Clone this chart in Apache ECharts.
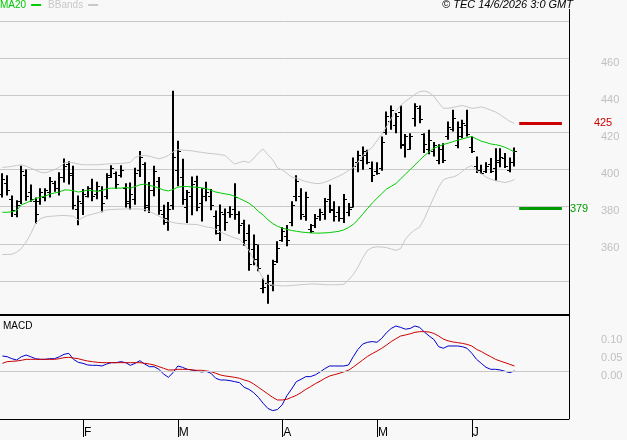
<!DOCTYPE html>
<html lang="en">
<head>
<meta charset="UTF-8">
<title>TEC</title>
<style>
    html, body { margin: 0; padding: 0; background: #f8f8f8; }
    #main { width: 627px; height: 440px; }
</style>
</head>
<body>
<div id="main"></div>
<script src="https://cdn.jsdelivr.net/npm/echarts@6/dist/echarts.min.js"></script>
<script>
    // trading days shown, plus empty future slots on the right
    var dates = [
        '2026-01-08','2026-01-09','2026-01-12','2026-01-13','2026-01-14','2026-01-15','2026-01-16','2026-01-19','2026-01-20','2026-01-21',
        '2026-01-22','2026-01-23','2026-01-26','2026-01-27','2026-01-28','2026-01-29','2026-01-30','2026-02-02','2026-02-03','2026-02-04',
        '2026-02-05','2026-02-06','2026-02-09','2026-02-10','2026-02-11','2026-02-12','2026-02-13','2026-02-16','2026-02-17','2026-02-18',
        '2026-02-19','2026-02-20','2026-02-23','2026-02-24','2026-02-25','2026-02-26','2026-02-27','2026-03-02','2026-03-03','2026-03-04',
        '2026-03-05','2026-03-06','2026-03-09','2026-03-10','2026-03-11','2026-03-12','2026-03-13','2026-03-16','2026-03-17','2026-03-18',
        '2026-03-19','2026-03-20','2026-03-23','2026-03-24','2026-03-25','2026-03-26','2026-03-27','2026-03-30','2026-03-31','2026-04-01',
        '2026-04-02','2026-04-07','2026-04-08','2026-04-09','2026-04-10','2026-04-13','2026-04-14','2026-04-15','2026-04-16','2026-04-17',
        '2026-04-20','2026-04-21','2026-04-22','2026-04-23','2026-04-24','2026-04-27','2026-04-28','2026-04-29','2026-04-30','2026-05-04',
        '2026-05-05','2026-05-06','2026-05-07','2026-05-08','2026-05-11','2026-05-12','2026-05-13','2026-05-14','2026-05-15','2026-05-18',
        '2026-05-19','2026-05-20','2026-05-21','2026-05-22','2026-05-25','2026-05-26','2026-05-27','2026-05-28','2026-05-29','2026-06-01',
        '2026-06-02','2026-06-03','2026-06-04','2026-06-05','2026-06-08','2026-06-09','2026-06-10','2026-06-11','2026-06-12'
    ];
    var futureDates = ['2026-06-15','2026-06-16','2026-06-17','2026-06-18','2026-06-19','2026-06-22','2026-06-23','2026-06-24','2026-06-25','2026-06-26','2026-06-29'];

    var opens = [
        387, 393, 384, 376, 383, 397, 388, 383, 383, 385,
        388, 393, 390, 396, 403, 398, 379, 382, 386, 390,
        387, 389, 386, 397, 398, 397, 390, 383, 384, 400,
        403, 381, 389, 394, 376, 372, 381, 400, 396, 380,
        386, 394, 382, 390, 386, 375, 366, 376, 377, 379,
        376, 371, 366, 357, 352, 336, 339, 338, 351, 362,
        364, 372, 386, 386, 375, 368, 370, 375, 376, 384,
        378, 377, 374, 377, 380, 404, 405, 408, 401, 399,
        401, 420, 426, 424, 431, 413, 411, 428, 433, 419,
        411, 410, 405, 411, 418, 422, 413, 418, 424, 412,
        402, 400, 399, 403, 401, 404, 406, 400, 404
    ];
    var closes = [
        395, 389, 378, 381, 399, 386, 384, 376, 388, 389,
        394, 390, 396, 402, 397, 381, 383, 387, 390, 386,
        391, 382, 396, 401, 392, 400, 382, 387, 398, 407,
        380, 389, 399, 378, 374, 379, 407, 410, 384, 388,
        392, 380, 386, 388, 381, 370, 377, 372, 376, 385,
        370, 362, 349, 360, 347, 337, 340, 349, 358, 367,
        362, 381, 394, 376, 385, 367, 374, 377, 383, 379,
        375, 374, 384, 379, 402, 408, 410, 404, 397, 398,
        415, 429, 432, 429, 414, 418, 418, 434, 427, 414,
        416, 413, 411, 405, 423, 428, 423, 425, 419, 410,
        400, 398, 402, 399, 405, 407, 402, 404, 410
    ];
    var lows = [
        385, 386, 374.5, 374.3, 381.4, 383.2, 382.7, 371, 381, 383,
        385, 388, 386, 393, 392, 378.5, 370, 375.5, 385, 383,
        384, 377, 384, 395.4, 389.5, 395.7, 379.6, 378.5, 381, 396,
        377.5, 376.6, 385.6, 375.7, 370.3, 367, 378.4, 391, 381.1, 371.2,
        375.4, 377.5, 372.1, 383, 378.1, 365, 361.5, 367, 374, 373,
        365.5, 359, 345.5, 348.5, 345.3, 333.4, 327.8, 334.5, 349.7, 361.2,
        358.7, 369.5, 383, 373, 372.5, 365.8, 368.5, 372.5, 373, 376.6,
        372.1, 372.1, 371.2, 374.8, 379.6, 398.6, 399.9, 402.9, 393.3, 397.2,
        399.4, 418.7, 421.4, 419.6, 411.2, 406.5, 410.7, 423.2, 425, 408.9,
        408.3, 407.1, 402.9, 403.5, 416, 420.5, 411.5, 416.9, 417.8, 408.9,
        398.1, 397.6, 398.1, 398.1, 394, 401.2, 400.8, 398.6, 401.7
    ];
    var highs = [
        398, 397, 386, 383.5, 402, 400, 392, 385, 390, 390,
        396, 394, 398.5, 406, 404.5, 402, 386, 389.5, 391, 395,
        393.5, 391, 398, 402.3, 399, 402.3, 392.7, 393, 401, 410,
        404, 393.3, 402, 396, 381, 382.5, 442.4, 415.5, 405.8, 389,
        396.3, 396.7, 390, 393.5, 389.6, 378, 381.2, 379, 380.3, 392.7,
        377.5, 373, 370.4, 365, 359.6, 341.4, 343.3, 351.5, 361.4, 369,
        370.2, 383, 397, 390, 388, 370.7, 376.1, 378.9, 384.7, 391.8,
        382.9, 380.2, 386.8, 382, 406.5, 410.1, 412.4, 410.7, 404.4, 404,
        417.8, 431.3, 434.5, 430.4, 434.5, 419.1, 419.6, 435.7, 434.5, 419.6,
        421.4, 414.8, 413.7, 414.2, 425.9, 432.2, 425.9, 426.8, 432.2, 417.8,
        407.1, 402.6, 404, 406.2, 411.5, 411.5, 408.9, 406.5, 411.9
    ];
    var ma20 = [
        377, 377, 377.3, 377.9, 381.1, 382, 383.2, 384.3, 385.2, 385.6,
        386.8, 387.4, 387.9, 389, 389, 388.6, 387.9, 388.3, 389, 388.6,
        388.3, 388.6, 389.7, 390, 390, 390, 390.4, 390, 390.8, 391.8,
        392.2, 391.5, 390.9, 390, 389, 388.5, 389.3, 390.5, 390.9, 390.9,
        390.6, 390.5, 390.2, 389.7, 388.9, 387.9, 387.4, 386.9, 386.5, 385.6,
        384.4, 383.2, 381.9, 380, 377.5, 375.5, 373, 371, 369.5, 368.5,
        367.8, 367.2, 366.8, 366.4, 366.1, 365.9, 365.8, 365.8, 365.9, 366.1,
        366.4, 366.8, 367.5, 368.8, 370.5, 373, 376, 379, 382, 384.5,
        387, 389.5, 391, 392.5, 395, 397.5, 400, 402.5, 405, 407.5,
        409.5, 411.5, 412.5, 413.5, 414.2, 415, 415.8, 416.5, 417.2, 417.8,
        416.5, 415.3, 414.6, 413.8, 413.4, 412.9, 412, 410.8, 409.4
    ];
    var bbUpper = [
        401.2, 401.4, 401.7, 402.2, 402.6, 401.8, 400.8, 399.6, 398.6, 398.2,
        399, 400, 401.2, 403.5, 404, 403.6, 403, 402.6, 402.6, 402.6,
        402.6, 402.8, 403, 403.1, 403.2, 403.3, 403.5, 404, 406.5, 407.4,
        407.6, 407.2, 406.5, 405.8, 406.5, 407.6, 409.5, 410.7, 410.5, 410.3,
        410.1, 409.6, 409.3, 408.9, 408.6, 408.4, 408, 407.6, 405, 403,
        403.8, 404.5, 403.8, 406, 409, 411, 408, 405.3, 401, 399.9,
        398, 396, 395.4, 394.4, 393.6, 393, 392.5, 392.5, 393.2, 394.2,
        395.4, 396.5, 397.8, 399.5, 401, 404, 407.5, 410, 412, 415.5,
        419, 423, 427.5, 431.5, 434.5, 436.8, 438.5, 440.5, 442, 442.3,
        441.5, 439.5, 436, 433, 433, 433.5, 434, 434.5, 433.8, 433,
        433.2, 433.8, 433, 432, 431, 429.5, 427.7, 426, 424.8
    ];
    var bbLower = [
        354.3, 354.3, 354.4, 355.5, 357.5, 361, 365.5, 371, 373.5, 374.5,
        374.8, 375, 375.2, 375.3, 375.1, 374.9, 372.8, 374.2, 375.3, 376,
        376.6, 377.5, 378.3, 378.5, 378.6, 378.7, 378.8, 378.8, 378.8, 378.8,
        378.5, 377.5, 376.3, 375, 373.5, 372.2, 371.5, 371, 370.8, 370.6,
        370.5, 370.4, 369.8, 369.1, 368.8, 368, 366.3, 365.3, 364.2, 363.2,
        362.5, 359.8, 356.5, 351.5, 346, 341, 338.3, 337.8, 337.6, 337.4,
        337.4, 337.6, 337.8, 338, 338.2, 338.4, 338.4, 338.2, 338, 338,
        338, 338, 338.2, 340.5, 343.5, 347.5, 352.5, 356.5, 358, 358.4,
        358.3, 358, 357.2, 356.5, 357.5, 362.5, 365.5, 367.5, 369, 373.5,
        379.5, 385, 390.5, 394.5, 395.5, 396, 397, 399, 401, 402.2,
        399.5, 397.8, 396, 394.8, 394, 393.5, 393, 393.6, 394.6
    ];
    var macdLine = [
        0.0432, 0.0413, 0.0356, 0.032, 0.041, 0.046, 0.041, 0.0356, 0.0338, 0.0338,
        0.0356, 0.0356, 0.041, 0.048, 0.0507, 0.0338, 0.0254, 0.0225, 0.0178, 0.0169,
        0.0169, 0.015, 0.0207, 0.0244, 0.0244, 0.0272, 0.0244, 0.0169, 0.0225, 0.03,
        0.0207, 0.0131, 0.0131, 0.0056, -0.0076, -0.017, -0.0038, 0.015, 0.0112, 0.0056,
        0.0038, 0.0009, -0.0019, 0, -0.0056, -0.0198, -0.0245, -0.0245, -0.0264, -0.0292,
        -0.032, -0.0452, -0.0509, -0.0603, -0.0735, -0.0904, -0.105, -0.111, -0.108, -0.095,
        -0.069, -0.05, -0.0292, -0.0226, -0.015, -0.015, -0.01, -0.0019, 0.0075, 0.015,
        0.015, 0.015, 0.015, 0.0178, 0.0413, 0.062, 0.077, 0.082, 0.084, 0.082,
        0.093, 0.109, 0.121, 0.128, 0.124, 0.119, 0.121, 0.128, 0.124, 0.111,
        0.0997, 0.09, 0.0696, 0.065, 0.0715, 0.0715, 0.0715, 0.0696, 0.065, 0.051,
        0.0338, 0.0225, 0.0112, 0.0056, 0.0056, 0.0038, 0, -0.0038, 0.0009
    ];
    var macdSignal = [
        0.0225, 0.0272, 0.0282, 0.029, 0.031, 0.0338, 0.0338, 0.0338, 0.0338, 0.0338,
        0.0338, 0.0338, 0.0356, 0.0385, 0.0394, 0.0375, 0.0356, 0.032, 0.029, 0.0272,
        0.0254, 0.0244, 0.0244, 0.0244, 0.0244, 0.0244, 0.0244, 0.0244, 0.0244, 0.0244,
        0.0225, 0.0207, 0.0178, 0.0131, 0.0085, 0.0038, 0.0038, 0.0056, 0.0056, 0.0056,
        0.0038, 0.0028, 0.0028, 0.0009, -0.0009, -0.0056, -0.0104, -0.0132, -0.015, -0.017,
        -0.0198, -0.0245, -0.0282, -0.0358, -0.0452, -0.0546, -0.064, -0.0735, -0.081, -0.081,
        -0.079, -0.0735, -0.068, -0.0603, -0.0509, -0.0433, -0.035, -0.028, -0.02, -0.0135,
        -0.0095, -0.006, -0.0015, 0.003, 0.012, 0.022, 0.032, 0.042, 0.05, 0.057,
        0.065, 0.074, 0.084, 0.092, 0.0997, 0.1025, 0.106, 0.11, 0.112, 0.112,
        0.111, 0.107, 0.0997, 0.091, 0.086, 0.083, 0.081, 0.079, 0.076, 0.0715,
        0.062, 0.056, 0.048, 0.0413, 0.0338, 0.029, 0.0244, 0.0197, 0.015
    ];
    var priceTicks = [360, 380, 400, 420, 440, 460];
    var macdTicks = [0, 0.05, 0.10];
    var levels = [425, 379];

    var levelColors = ['#cc0000', '#009900'];
    var levelLabelGap = [32, 8];
    var levelStart = 109, levelEnd = 118;   // category slots of the level marks

    var categories = dates.concat(futureDates);
    var bars = dates.map(function (d, i) {
        return [i, opens[i], closes[i], lows[i], highs[i]];
    });
    var monthLetters = 'JFMAMJJASOND';

    function isMonthStart(i) {
        return i > 0 && categories[i].slice(5, 7) !== categories[i - 1].slice(5, 7);
    }
    function onList(list, v) {
        return list.some(function (t) { return Math.abs(t - v) < 1e-6; });
    }

    var myChart = echarts.init(document.getElementById('main'));

    var option = {
        backgroundColor: '#f8f8f8',
        animation: false,
        textStyle: { fontFamily: 'Liberation Sans' },
        title: [
            {
                text: '© TEC 14/6/2026 3:0 GMT',
                right: 54, top: -1, padding: 0,
                textStyle: { fontSize: 11, fontStyle: 'italic', fontWeight: 'normal', color: '#000' }
            },
            {
                text: 'MACD',
                left: 3, top: 321, padding: 0,
                textStyle: { fontSize: 10, fontWeight: 'normal', color: '#000' }
            }
        ],
        legend: {
            left: 0, top: 0, padding: 0,
            itemGap: 7, itemWidth: 10, itemHeight: 2,
            icon: 'rect', align: 'right', selectedMode: false,
            textStyle: { fontSize: 10 },
            data: [
                { name: 'MA20', textStyle: { color: '#00cc00' } },
                { name: 'BBands', textStyle: { color: '#c8c8c8' } }
            ]
        },
        grid: [
            { left: 0, right: 58, top: 21, height: 260 },
            { left: 0, right: 58, top: 318.2, height: 106.2 }
        ],
        xAxis: [
            { type: 'category', gridIndex: 0, data: categories, show: false },
            {
                type: 'category', gridIndex: 1, data: categories, offset: -5.4,
                axisLine: { show: true, onZero: false, lineStyle: { color: '#000', width: 1 } },
                axisTick: {
                    show: true, alignWithLabel: true, length: 18,
                    interval: function (i) { return isMonthStart(i); },
                    lineStyle: { color: '#000', width: 1 }
                },
                axisLabel: {
                    interval: function (i) { return isMonthStart(i); },
                    formatter: function (v) { return monthLetters[+v.slice(5, 7) - 1]; },
                    align: 'left', verticalAlign: 'top', margin: 8, padding: [0, 0, 0, 1],
                    color: '#000', fontSize: 12
                }
            }
        ],
        yAxis: [
            {
                type: 'value', gridIndex: 0, position: 'right',
                min: 340, max: 480, interval: 20,
                axisLine: { show: false }, axisTick: { show: false },
                splitLine: { lineStyle: { color: '#c8c8c8', width: 1 } },
                axisLabel: {
                    margin: 32, verticalAlign: 'top', lineHeight: 9, color: '#c0c0c0', fontSize: 11,
                    formatter: function (v) { return onList(priceTicks, v) ? String(v) : ''; }
                }
            },
            {
                type: 'value', gridIndex: 1, position: 'right',
                min: -0.15, max: 0.15, interval: 0.05,
                axisLine: { show: false }, axisTick: { show: false },
                splitLine: { show: false },
                axisLabel: {
                    margin: 32, verticalAlign: 'top', lineHeight: 9, color: '#c0c0c0', fontSize: 11,
                    formatter: function (v) { return onList(macdTicks, v) ? Math.abs(v).toFixed(2) : ''; }
                }
            }
        ],
        graphic: [
            { type: 'line', shape: { x1: 569.5, y1: 9, x2: 569.5, y2: 419 }, style: { stroke: '#000', lineWidth: 1 } },
            { type: 'line', shape: { x1: 0, y1: 315, x2: 570, y2: 315 }, style: { stroke: '#000', lineWidth: 2 } }
        ],
        series: [
            {
                name: 'OHLC',
                type: 'custom',
                xAxisIndex: 0, yAxisIndex: 0,
                encode: { x: 0, y: [1, 2, 3, 4] },
                data: bars,
                renderItem: function (params, api) {
                    var x = api.value(0);
                    var o = api.coord([x, api.value(1)]);
                    var c = api.coord([x, api.value(2)]);
                    var lo = api.coord([x, api.value(3)]);
                    var hi = api.coord([x, api.value(4)]);
                    var px = Math.round(lo[0]);
                    var oy = Math.round(o[1]) + 0.5, cy = Math.round(c[1]) + 0.5;
                    return {
                        type: 'group',
                        children: [
                            { type: 'line', shape: { x1: px, y1: lo[1], x2: px, y2: hi[1] }, style: { stroke: '#000', lineWidth: 2 } },
                            { type: 'line', shape: { x1: px - 3, y1: oy, x2: px, y2: oy }, style: { stroke: '#000', lineWidth: 1 } },
                            { type: 'line', shape: { x1: px, y1: cy, x2: px + 3, y2: cy }, style: { stroke: '#000', lineWidth: 1 } }
                        ]
                    };
                },
                z: 3
            },
            {
                name: 'MA20', type: 'line', xAxisIndex: 0, yAxisIndex: 0,
                data: ma20, symbol: 'none', clip: false,
                color: '#00cc00', lineStyle: { color: '#00cc00', width: 1 },
                markLine: {
                    silent: true, symbol: ['none', 'none'], animation: false,
                    data: levels.map(function (v, k) {
                        return [
                            {
                                coord: [levelStart, v],
                                lineStyle: { color: levelColors[k], width: 3, type: 'solid' },
                                label: {
                                    show: true, position: 'end', formatter: String(v),
                                    color: levelColors[k], distance: levelLabelGap[k], fontSize: 11
                                }
                            },
                            { coord: [levelEnd, v] }
                        ];
                    })
                },
                z: 4
            },
            {
                name: 'BBands', type: 'line', xAxisIndex: 0, yAxisIndex: 0,
                data: bbUpper, symbol: 'none', clip: false,
                color: '#c8c8c8', lineStyle: { color: '#c8c8c8', width: 1 }
            },
            {
                name: 'BBands', type: 'line', xAxisIndex: 0, yAxisIndex: 0,
                data: bbLower, symbol: 'none', clip: false,
                color: '#c8c8c8', lineStyle: { color: '#c8c8c8', width: 1 }
            },
            {
                name: 'MACD', type: 'line', xAxisIndex: 1, yAxisIndex: 1,
                data: macdLine, symbol: 'none',
                color: '#0000cc', lineStyle: { color: '#0000cc', width: 1 },
                markLine: {
                    silent: true, symbol: ['none', 'none'], animation: false,
                    label: { show: false },
                    lineStyle: { color: '#c8c8c8', width: 1, type: 'solid' },
                    data: [{ yAxis: 0 }]
                },
                z: 3
            },
            {
                name: 'Signal', type: 'line', xAxisIndex: 1, yAxisIndex: 1,
                data: macdSignal, symbol: 'none',
                color: '#cc0000', lineStyle: { color: '#cc0000', width: 1 },
                z: 4
            }
        ]
    };
    myChart.setOption(option);
</script>
</body>
</html>
